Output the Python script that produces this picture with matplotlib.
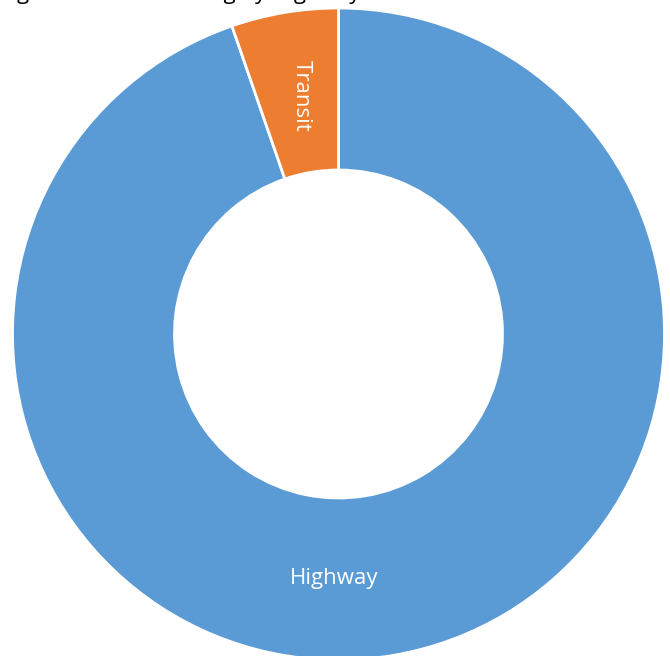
import numpy as np
import matplotlib.pyplot as plt

categories = ['Highway', 'Transit']
shares = [94.7, 5.3]
colors = ['#5B9BD5', '#ED7D31']
title = 'Figure 1: Total Funding by Highway / Transit'

plt.rcParams['font.family'] = ['Open Sans', 'DejaVu Sans']

fig = plt.figure(figsize=(6.70, 6.56), dpi=100)
ax = fig.add_axes([0, 0, 1, 1])

outer = 1.0
inner = 164 / 326
wedges, _ = ax.pie(shares, colors=colors, startangle=90, counterclock=False,
                   radius=outer,
                   wedgeprops=dict(width=outer - inner, edgecolor='white', linewidth=2))

mid_r = (outer + inner) / 2
# highway label sits just left of the bottom, transit label in its slice
ax.text(mid_r * np.cos(np.deg2rad(-91)), mid_r * np.sin(np.deg2rad(-91)),
        categories[0], ha='center', va='center', color='white', fontsize=16)
w = wedges[1]
ang = np.deg2rad((w.theta1 + w.theta2) / 2)
ax.text(mid_r * np.cos(ang) + 0.01, mid_r * np.sin(ang) - 0.01, categories[1],
        ha='center', va='center', rotation=-90, color='white', fontsize=16)

ax.set_aspect('auto')
ax.set_xlim(-338.5 / 326, (670 - 338.5) / 326)
ax.set_ylim(-322 / 326, 334 / 326)
ax.axis('off')

# title runs off the top edge, only its descenders show
fig.text(0.0, 1.0 + 0.5 / 656, title, ha='left', va='baseline', fontsize=16)

fig.savefig('out.png', dpi=100)
